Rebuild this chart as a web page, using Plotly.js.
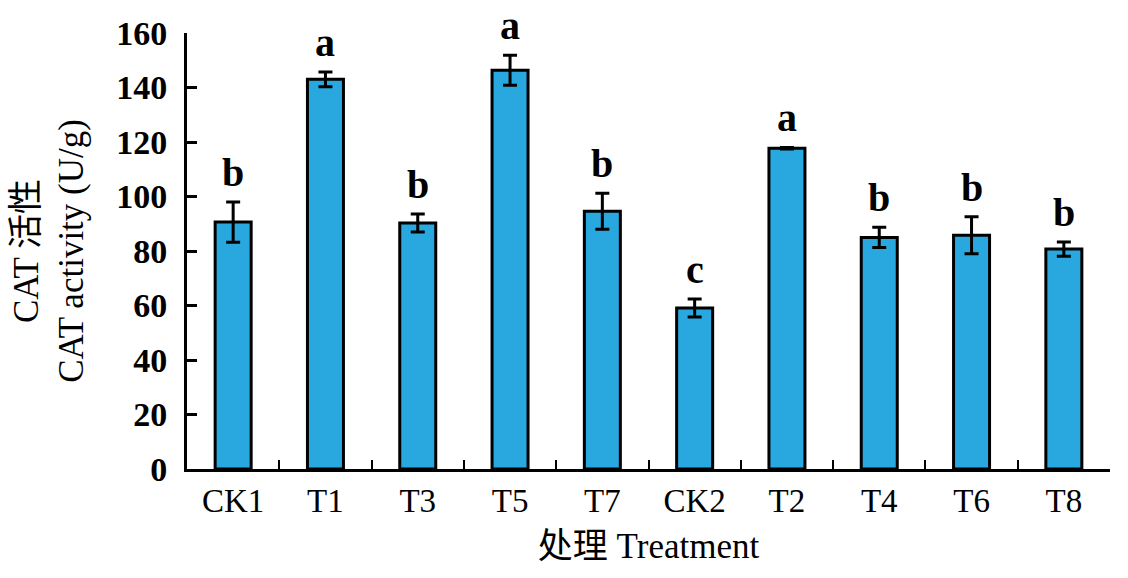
<!DOCTYPE html>
<html><head><meta charset="utf-8">
<script src="https://cdn.plot.ly/plotly-3.0.1.min.js"></script>
<style>body{margin:0;background:#fff}#c{width:1128px;height:578px}</style>
</head><body><div id="c"></div>
<script>
const categories = ['CK1','T1','T3','T5','T7','CK2','T2','T4','T6','T8'];
const values = [90.6, 143.0, 90.3, 146.3, 94.6, 59.1, 117.7, 85.0, 85.8, 80.7];
const errors = [7.4, 2.7, 3.3, 5.5, 6.6, 3.3, 0.3, 3.7, 6.8, 2.6];
const letters = ['b','a','b','a','b','c','a','b','b','b'];
const yTicks = [0,20,40,60,80,100,120,140,160];

const serif = '"Liberation Serif","Times New Roman",serif';
const cjkSerif = '"Liberation Serif","Noto Sans CJK SC",serif';
const trace = {
  type:'bar', x:categories, y:values, width:0.39,
  marker:{color:'#29A8E0', line:{color:'#000', width:3}},
  error_y:{type:'data', array:errors, visible:true, color:'#000', thickness:3, width:7}
};
const annotations = categories.map((c,i)=>({
  x:c, y:values[i]+errors[i], text:'<b>'+letters[i]+'</b>', showarrow:false,
  yanchor:'bottom', yshift:5, font:{family:serif, size:40, color:'#000'}
}));
const layout = {
  width:1128, height:578, margin:{l:187, r:18, t:33, b:109},
  paper_bgcolor:'#fff', plot_bgcolor:'#fff', showlegend:false,
  font:{family:serif, color:'#000'},
  xaxis:{type:'category', showline:true, linecolor:'#000', linewidth:3,
    ticks:'inside', tickson:'boundaries', ticklen:9, tickwidth:2, tickcolor:'#000',
    tickfont:{family:serif, size:33}, showgrid:false, zeroline:false,
    title:{text:'处理 Treatment', font:{family:cjkSerif, size:35}, standoff:16}},
  yaxis:{range:[0,160], tickvals:yTicks, showline:true, linecolor:'#000', linewidth:3,
    ticks:'inside', ticklen:10, tickwidth:3, tickcolor:'#000', ticklabelstandoff:10,
    tickfont:{family:serif, size:34, weight:'bold'}, showgrid:false, zeroline:false,
    title:{text:'CAT 活性<br>CAT activity (U/g)', font:{family:cjkSerif, size:35}, standoff:22}},
  annotations:annotations
};
Plotly.newPlot('c',[trace],layout,{displayModeBar:false,staticPlot:true});
</script></body></html>
